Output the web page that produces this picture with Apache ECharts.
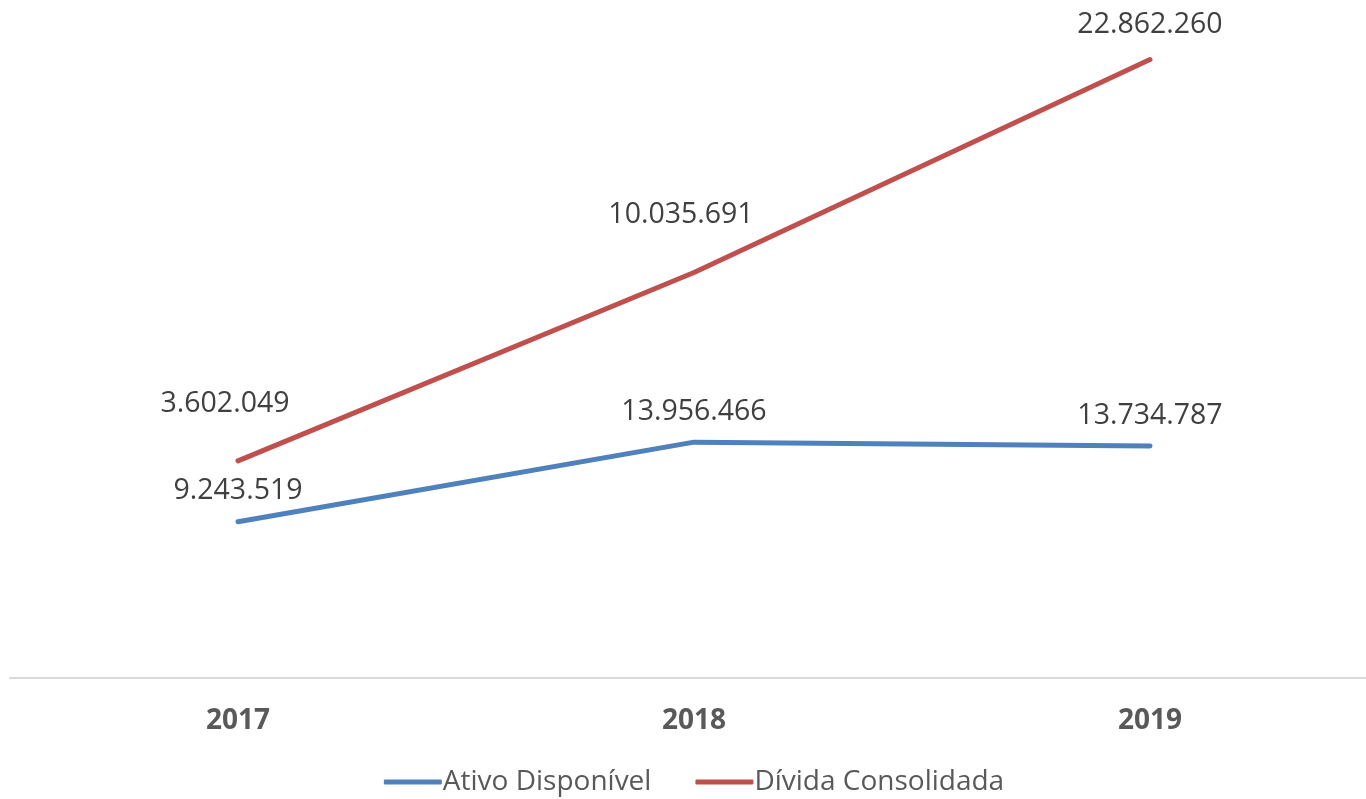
<!DOCTYPE html>
<html>
<head>
<meta charset="utf-8">
<script src="https://cdn.jsdelivr.net/npm/echarts@6/dist/echarts.min.js"></script>
<style>
  html, body { margin: 0; padding: 0; background: #fff; overflow: hidden; }
  #chart { width: 1388px; height: 799px; }
</style>
</head>
<body>
<div id="chart"></div>
<script>
const years = ['2017', '2018', '2019'];
const ativoDisponivel = [9243519, 13956466, 13734787];
const dividaConsolidada = [3602049, 10035691, 22862260];

// pt-BR style thousands separator
const fmt = (v) => String(v).replace(/\B(?=(\d{3})+(?!\d))/g, '.');

const labelFont = {
  fontFamily: 'Open Sans',
  fontSize: 28.5,
  color: '#404040',
};

const chart = echarts.init(document.getElementById('chart'));
const option = {
  animation: false,
  grid: { left: 10, top: 2, right: 10, bottom: 121 },
  legend: {
    bottom: -2,
    left: 'center',
    itemWidth: 58,
    itemHeight: 5,
    itemGap: 44,
    icon: 'roundRect',
    textStyle: { fontFamily: 'Open Sans', fontSize: 28, color: '#595959', padding: [0, 0, 0, -4] },
    data: ['Ativo Disponível', 'Dívida Consolidada'],
  },
  xAxis: {
    type: 'category',
    data: years,
    boundaryGap: true,
    axisLine: { lineStyle: { color: '#d9d9d9', width: 2 } },
    axisTick: { show: false },
    axisLabel: {
      margin: 29,
      fontFamily: 'Open Sans',
      fontWeight: 'bold',
      fontSize: 28,
      color: '#595959',
    },
  },
  yAxis: {
    type: 'value',
    min: 0,
    max: 40000000,
    show: false,
    splitLine: { show: false },
  },
  series: [
    {
      name: 'Ativo Disponível',
      type: 'line',
      stack: 'total',
      symbol: 'circle',
      symbolSize: 0,
      data: ativoDisponivel,
      lineStyle: { color: '#4F81BD', width: 5, cap: 'round' },
      itemStyle: { color: '#4F81BD' },
      label: Object.assign({ show: true, position: 'top', distance: 16, formatter: (p) => fmt(p.value) }, labelFont),
    },
    {
      name: 'Dívida Consolidada',
      type: 'line',
      stack: 'total',
      symbol: 'circle',
      symbolSize: 0,
      data: dividaConsolidada.map((v, i) => i === 2
        ? { value: v, label: { distance: 20 } }
        : { value: v, label: { offset: [-13, 0] } }),
      lineStyle: { color: '#C0504D', width: 5, cap: 'round' },
      itemStyle: { color: '#C0504D' },
      label: Object.assign({ show: true, position: 'top', distance: 43, formatter: (p) => fmt(p.value) }, labelFont),
    },
  ],
};
chart.setOption(option);
</script>
</body>
</html>
